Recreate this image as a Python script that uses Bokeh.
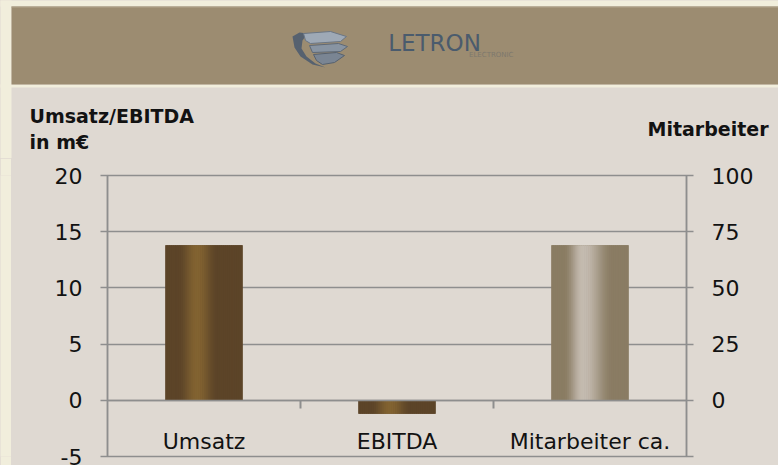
import numpy as np
from bokeh.plotting import figure
from bokeh.models import Range1d, LinearAxis, FixedTicker, Grid, ColumnDataSource
from bokeh.layouts import column, row
from bokeh.embed import file_html
from bokeh.resources import INLINE
from bokeh.core.properties import value

# ---------------- data ----------------
categories = ["Umsatz", "EBITDA", "Mitarbeiter ca."]
bar_values = [13.8, -1.2, 69]
bar_axis = ["left", "left", "right"]
left_ticks = [-5, 0, 5, 10, 15, 20]
right_ticks = [0, 25, 50, 75, 100]
right_min = -25
left_title = ["Umsatz/EBITDA", "in m€"]
right_title = "Mitarbeiter"
logo_text = "LETRON"
logo_sub = "ELECTRONIC"

# ---------------- style ----------------
FONT = "DejaVu Sans"
CREAM = "#F1EEDC"
BAND = "#9C8C71"
CHART_BG = "#DFD9D2"
GRID = "#8E8E8E"
TEXT = "#121212"
BAR_EDGE = ["#5C4428", "#5C4428", "#8A7C63"]
BAR_PEAK = ["#826331", "#826331", "#C4BBB0"]
BAR_FALL = [0.68, 0.68, 0.80]
BAR_W = 0.40
N_STRIPS = 40


def hexrgb(h):
    return np.array([int(h[i:i + 2], 16) for i in (1, 3, 5)], float)


def strip_colors(edge, peak, n, t1, t_peak=0.41, t0=0.16):
    t = (np.arange(n) + 0.5) / n
    f = np.where(t < t_peak, (t - t0) / (t_peak - t0), (t1 - t) / (t1 - t_peak))
    f = np.clip(f, 0, 1)
    f = 0.5 - 0.5 * np.cos(np.pi * f)
    e, p = hexrgb(edge), hexrgb(peak)
    cols = e[None, :] + (p - e)[None, :] * f[:, None]
    return ["#%02x%02x%02x" % tuple(int(round(v)) for v in c) for c in cols]


# ---------------- header (logo + axis titles) ----------------
HEAD_H = 158
h = figure(width=778, height=HEAD_H, x_range=Range1d(0, 778), y_range=Range1d(HEAD_H, 0),
           toolbar_location=None, output_backend="svg", x_axis_location=None, y_axis_location=None,
           min_border=0, background_fill_color=CHART_BG, border_fill_color=CHART_BG, outline_line_color=None)
h.grid.visible = False
# cream page margin (left strip, top strip, gap under band)
h.quad(left=[-10, -10, -10], right=[11, 790, 790], top=[-10, -10, 84], bottom=[HEAD_H + 10, 6, 87],
       fill_color=CREAM, line_color=None)
h.quad(left=[11], right=[790], top=[6], bottom=[84], fill_color=BAND, line_color=None)
h.segment(x0=[11], y0=[6.5], x1=[790], y1=[6.5], line_color="#B3A68E", line_width=1)

# logo icon
h.patch(x=[292, 299, 307, 302, 301, 306, 315, 325, 312, 300, 294],
        y=[36, 32, 33, 40, 48, 56, 63, 67, 64, 56, 47], fill_color="#56616F", line_color=None)
h.patch(x=[303, 330, 346, 340, 310, 305], y=[33, 31, 36, 41, 43, 40], fill_color="#9EA9B6", line_color="#6B7684", line_width=1)
h.patch(x=[309, 338, 347, 340, 312], y=[45, 43, 46, 51, 52], fill_color="#8894A2", line_color="#5E6977", line_width=1)
h.patch(x=[313, 336, 344, 334, 322, 316], y=[54, 52, 55, 62, 64, 60], fill_color="#7A8593", line_color="#56616F", line_width=1)
h.text(x=[434], y=[42], text=[logo_text], text_font=value(FONT), text_font_size="23px",
       text_color="#4A5B6D", text_align="center", text_baseline="middle")
h.text(x=[513], y=[54], text=[logo_sub], text_font=value(FONT), text_font_size="7px",
       text_color="#7D786D", text_align="right", text_baseline="middle")

# axis titles
h.text(x=[29, 29], y=[115, 141], text=left_title, text_font=value(FONT), text_font_style="bold",
       text_font_size="19px", text_color=TEXT, text_align="left", text_baseline="middle")
h.text(x=[768], y=[128], text=[right_title], text_font=value(FONT), text_font_style="bold",
       text_font_size="19px", text_color=TEXT, text_align="right", text_baseline="middle")

# ---------------- chart ----------------
CH_H = 465 - HEAD_H
p = figure(width=767, height=CH_H, x_range=Range1d(0, len(categories)),
           y_range=Range1d(left_ticks[0], left_ticks[-1]),
           x_axis_location=None, y_axis_location=None, toolbar_location=None, output_backend="svg",
           min_border_left=96, min_border_right=92, min_border_top=175 - HEAD_H, min_border_bottom=9,
           background_fill_color=CHART_BG, border_fill_color=CHART_BG,
           outline_line_color=GRID, outline_line_width=1.5)
p.extra_y_ranges = {"right": Range1d(right_min, right_ticks[-1])}
p.grid.visible = False
p.add_layout(Grid(dimension=1, ticker=FixedTicker(ticks=left_ticks), grid_line_color=GRID, grid_line_width=1.5))

for i, (cat, v, ax) in enumerate(zip(categories, bar_values, bar_axis)):
    rng = "default" if ax == "left" else "right"
    xc = i + 0.5
    p.vbar(x=[xc], width=BAR_W, top=[v], bottom=[0], fill_color=BAR_EDGE[i], line_color=None, y_range_name=rng)
    w = BAR_W / N_STRIPS
    lefts = xc - BAR_W / 2 + np.arange(N_STRIPS) * w
    rights = np.minimum(lefts + w * 1.35, xc + BAR_W / 2)
    src = ColumnDataSource(dict(left=lefts, right=rights, top=[v] * N_STRIPS, bottom=[0] * N_STRIPS,
                                color=strip_colors(BAR_EDGE[i], BAR_PEAK[i], N_STRIPS, BAR_FALL[i])))
    p.quad(left="left", right="right", top="top", bottom="bottom", fill_color="color", line_color=None,
           source=src, y_range_name=rng)

axis_common = dict(axis_line_color=GRID, axis_line_width=1.5, major_tick_line_color=GRID,
                   major_tick_line_width=1.5, minor_tick_line_color=GRID, minor_tick_line_width=1.5,
                   major_label_text_font=FONT, major_label_text_font_size="22px",
                   major_label_text_color=TEXT)

yl = LinearAxis(ticker=FixedTicker(ticks=left_ticks, minor_ticks=[]), major_tick_out=7, major_tick_in=0,
                major_label_standoff=18, major_label_overrides={t: str(t) for t in left_ticks},
                **axis_common)
p.add_layout(yl, "left")

yr = LinearAxis(y_range_name="right", ticker=FixedTicker(ticks=right_ticks, minor_ticks=[right_min]),
                major_tick_out=7, major_tick_in=0, minor_tick_out=7, minor_tick_in=0,
                major_label_standoff=18, **axis_common)
p.add_layout(yr, "right")

centers = [i + 0.5 for i in range(len(categories))]
bounds = list(range(1, len(categories)))
xcat = LinearAxis(fixed_location=0, ticker=FixedTicker(ticks=centers, minor_ticks=bounds),
                  major_label_overrides={c: name for c, name in zip(centers, categories)},
                  major_tick_out=0, major_tick_in=0, minor_tick_out=8, minor_tick_in=0,
                  major_label_standoff=21, **axis_common)
xcat.major_tick_line_color = None
xcat.minor_tick_line_width = 2
p.add_layout(xcat, "below")

strip = figure(width=11, height=CH_H, toolbar_location=None, output_backend="svg",
               x_axis_location=None, y_axis_location=None, min_border=0,
               background_fill_color=CREAM, border_fill_color=CREAM, outline_line_color=None)
strip.grid.visible = False

body = row(strip, p, spacing=0, styles={"background-color": CHART_BG})
layout = column(h, body, spacing=0, styles={"background-color": CHART_BG})
open("out.html", "w").write(file_html(layout, INLINE))
